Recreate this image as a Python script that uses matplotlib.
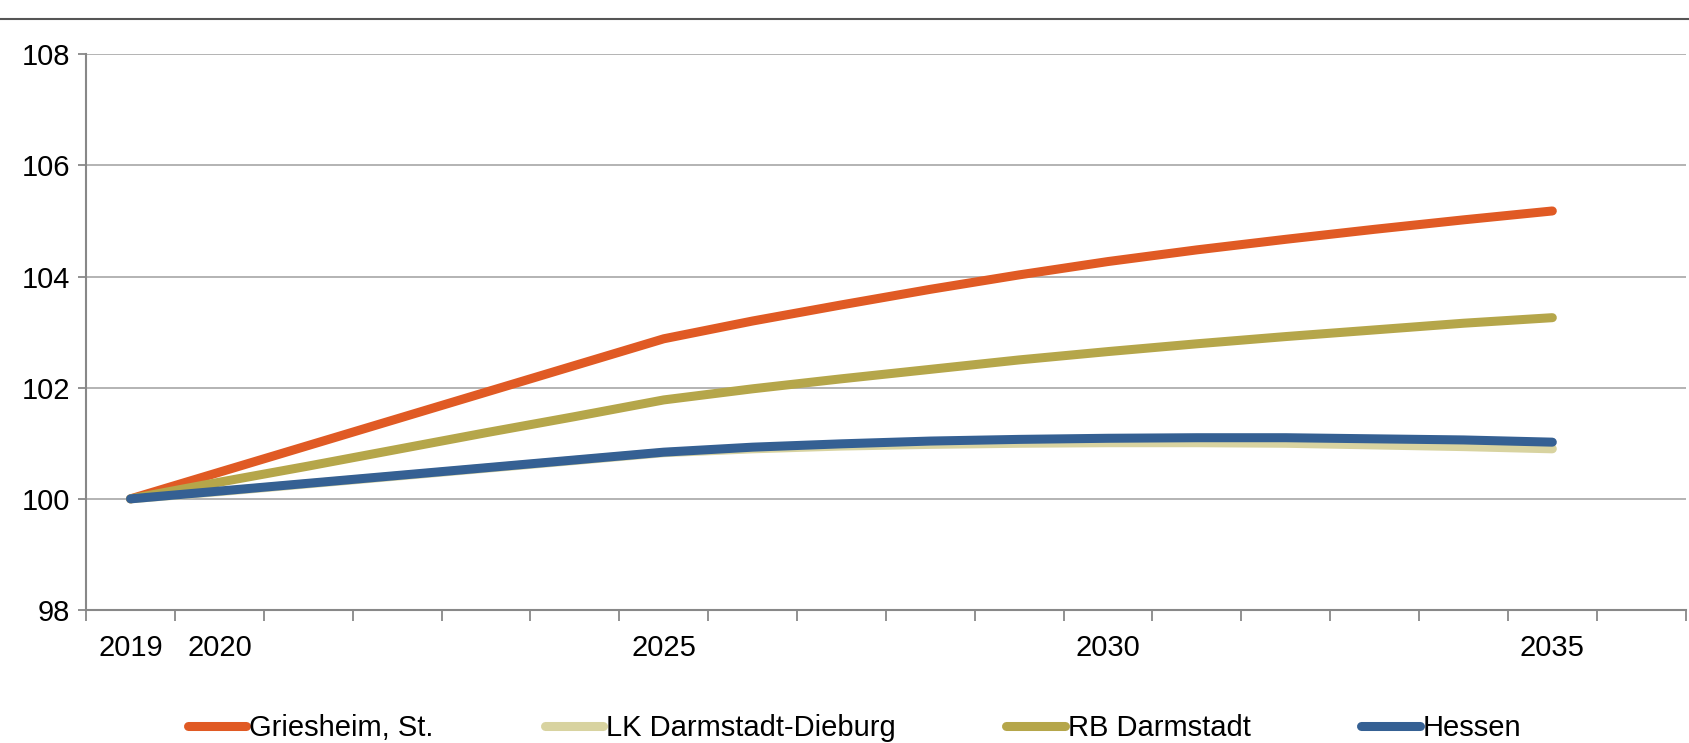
import matplotlib
matplotlib.use("Agg")
import matplotlib.pyplot as plt
from matplotlib.lines import Line2D

# data (index, 2019 = 100)
years = list(range(2019, 2036))
griesheim = [100.0, 100.48, 100.96, 101.44, 101.92, 102.4, 102.88, 103.2, 103.49,
             103.77, 104.03, 104.27, 104.48, 104.67, 104.85, 105.02, 105.18]
lk_darmstadt_dieburg = [100.0, 100.13, 100.27, 100.41, 100.55, 100.69, 100.83, 100.9, 100.95,
                        100.98, 101.0, 101.01, 101.01, 101.0, 100.97, 100.94, 100.9]
rb_darmstadt = [100.0, 100.3, 100.59, 100.89, 101.19, 101.48, 101.78, 101.98, 102.16,
                102.33, 102.5, 102.65, 102.79, 102.92, 103.04, 103.16, 103.26]
hessen = [100.0, 100.14, 100.28, 100.42, 100.56, 100.7, 100.84, 100.93, 100.99,
          101.04, 101.07, 101.09, 101.1, 101.1, 101.08, 101.06, 101.02]

categories = list(range(2019, 2037))
shown_labels = {2019: "2019", 2020: "2020", 2025: "2025", 2030: "2030", 2035: "2035"}

series = [
    ("Griesheim, St.", griesheim, "#E05A24"),
    ("LK Darmstadt-Dieburg", lk_darmstadt_dieburg, "#D8D3A0"),
    ("RB Darmstadt", rb_darmstadt, "#B5A64A"),
    ("Hessen", hessen, "#356093"),
]

plt.rcParams['font.family'] = ['Liberation Sans', 'DejaVu Sans']

fig = plt.figure(figsize=(16.89, 7.43), dpi=100)
ax = fig.add_axes([0.051, 0.179, 0.947, 0.748])

for name, vals, col in series:
    x = [categories.index(y) for y in years]
    ax.plot(x, vals, color=col, lw=6.5, solid_capstyle='round',
            solid_joinstyle='round', label=name)

ax.set_ylim(98, 108)
ax.set_yticks([98, 100, 102, 104, 106, 108])
ax.set_xlim(-0.5, len(categories) - 0.5)

# category axis: ticks between categories, labels at centres
ax.set_xticks([i - 0.5 for i in range(len(categories) + 1)])
ax.set_xticklabels([])
ax.set_xticks(range(len(categories)), minor=True)
ax.set_xticklabels([shown_labels.get(c, "") for c in categories], minor=True)
ax.tick_params(axis='x', which='major', direction='out', length=8, width=1.3, color='#888888')
ax.tick_params(axis='x', which='minor', length=0, pad=17, labelsize=21)
ax.tick_params(axis='y', direction='out', length=5.5, width=1.3, color='#888888',
               labelsize=21, pad=6)

ax.grid(axis='y', color='#b3b3b3', lw=1.4)
ax.set_axisbelow(True)
for s in ['top', 'right']:
    ax.spines[s].set_visible(False)
for s in ['left', 'bottom']:
    ax.spines[s].set_color('#888888')
    ax.spines[s].set_linewidth(1.5)

# thin rule across the top of the figure
fig.add_artist(Line2D([0, 1], [0.975, 0.975], transform=fig.transFigure,
                      color='#555555', lw=1.5))

fig.legend(loc='center', bbox_to_anchor=(0.506, 0.02), ncol=4, frameon=False,
           fontsize=21, handlelength=2.0, handletextpad=0.1, columnspacing=3.8)

fig.savefig("out.png", dpi=100)
